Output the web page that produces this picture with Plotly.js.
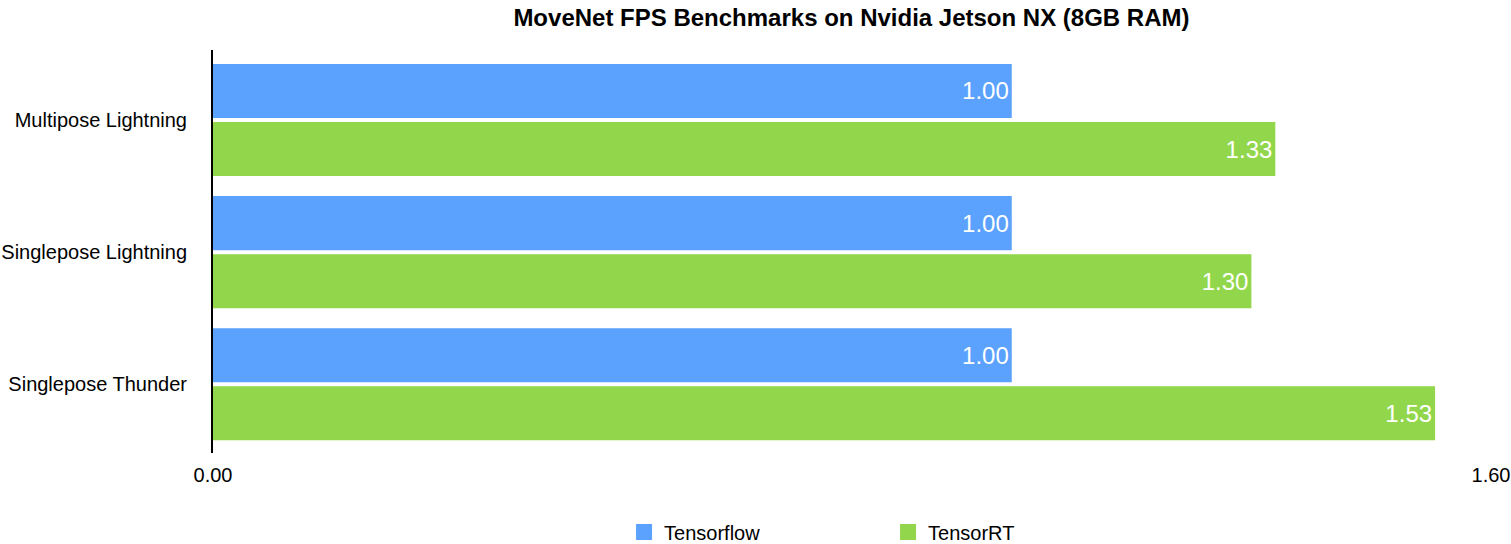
<!DOCTYPE html>
<html>
<head>
<meta charset="utf-8">
<script src="https://cdn.plot.ly/plotly-3.0.1.min.js"></script>
<style>html,body{margin:0;padding:0;background:#fff;}#chart{width:1511px;height:544px;}</style>
</head>
<body>
<div id="chart"></div>
<script>
const categories = ["Multipose Lightning", "Singlepose Lightning", "Singlepose Thunder"];
const tensorflowValues = [1.00, 1.00, 1.00];
const tensorrtValues = [1.33, 1.30, 1.53];
const seriesNames = ["Tensorflow", "TensorRT"];
const seriesColors = ["#5BA1FE", "#92D74B"];
const xTickVals = [0, 1.6];
const xTickText = ["0.00", "1.60"];

const fontFam = "Liberation Sans, Arial, Helvetica, sans-serif";
function fmt(v){ return v.toFixed(2); }

const traces = [
  {
    type: "bar", orientation: "h", name: seriesNames[0], showlegend: false,
    y: categories, x: tensorflowValues,
    text: tensorflowValues.map(fmt), textposition: "inside", insidetextanchor: "end",
    textfont: {color: "#ffffff", size: 24, family: fontFam},
    marker: {color: seriesColors[0]}, hoverinfo: "none"
  },
  {
    type: "bar", orientation: "h", name: seriesNames[1], showlegend: false,
    y: categories, x: tensorrtValues,
    text: tensorrtValues.map(fmt), textposition: "inside", insidetextanchor: "end",
    textfont: {color: "#ffffff", size: 24, family: fontFam},
    marker: {color: seriesColors[1]}, hoverinfo: "none"
  },
  // legend-only entries with larger square swatches
  {type: "scatter", mode: "markers", name: seriesNames[0], x: [null], y: [null],
   marker: {symbol: "square", size: 18, color: seriesColors[0]}, showlegend: true, hoverinfo: "none"},
  {type: "scatter", mode: "markers", name: seriesNames[1], x: [null], y: [null],
   marker: {symbol: "square", size: 18, color: seriesColors[1]}, showlegend: true, hoverinfo: "none"}
];

const layout = {
  width: 1511, height: 544,
  margin: {l: 213, r: 20, t: 50, b: 91},
  paper_bgcolor: "#ffffff", plot_bgcolor: "#ffffff",
  font: {family: fontFam, color: "#000000", size: 20},
  title: {text: "<b>MoveNet FPS Benchmarks on Nvidia Jetson NX (8GB RAM)</b>", x: 0.5635, xanchor: "center",
          yref: "container", y: 0.967, yanchor: "middle", font: {size: 24, family: fontFam, color: "#000"}},
  barmode: "group", bargap: 0.121, bargroupgap: 0.069,
  xaxis: {
    range: [0, 1.6], tickvals: xTickVals, ticktext: xTickText,
    showgrid: true, gridcolor: "#d9d9d9", gridwidth: 2,
    zeroline: false, showline: false, ticks: "", ticklen: 0, ticklabelstandoff: 8,
    tickfont: {size: 20, color: "#000"}, fixedrange: true
  },
  yaxis: {
    type: "category", autorange: false, range: [2.52, -0.53],
    showline: true, linecolor: "#000", linewidth: 2, showgrid: false, zeroline: false,
    ticks: "", ticklabelstandoff: 20, tickfont: {size: 20, color: "#000"}
  },
  showlegend: true,
  legend: {orientation: "h", xref: "container", yref: "container", x: 0.413, xanchor: "left",
    y: 0.022, yanchor: "middle", entrywidth: 219, entrywidthmode: "pixels", itemwidth: 30,
    font: {size: 20, color: "#000"}, traceorder: "normal"}
};

Plotly.newPlot("chart", traces, layout, {displayModeBar: false, staticPlot: true});
</script>
</body>
</html>
